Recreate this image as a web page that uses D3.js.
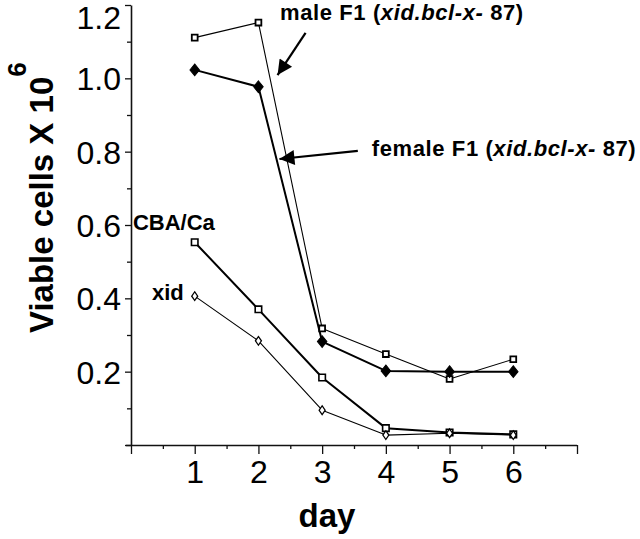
<!DOCTYPE html>
<html>
<head>
<meta charset="utf-8">
<script src="https://cdn.jsdelivr.net/npm/d3@7"></script>
<style>
  html, body { margin: 0; padding: 0; background: #fff; }
  svg { display: block; }
  text { font-family: "Liberation Sans", Arial, Helvetica, sans-serif; fill: #000; }
</style>
</head>
<body>
<svg id="chart" width="640" height="539"></svg>
<script>
// ---- data ----
const days = [1, 2, 3, 4, 5, 6];
const maleF1   = [1.111, 1.152, 0.318, 0.248, 0.180, 0.234];
const femaleF1 = [1.023, 0.977, 0.282, 0.202, 0.200, 0.200];
const cbaCa    = [0.553, 0.370, 0.184, 0.046, 0.034, 0.029];
const xidVals  = [0.406, 0.284, 0.095, 0.027, 0.032, 0.027];

const xMajorTicks = [0, 1, 2, 3, 4, 5, 6, 7];
const xTickLabels = ["", "1", "2", "3", "4", "5", "6", ""];
const xMinorTicks = [0.5, 1.5, 2.5, 3.5, 4.5, 5.5, 6.5];
const yMajorTicks = [0, 0.2, 0.4, 0.6, 0.8, 1.0, 1.2];
const yTickLabels = ["", "0.2", "0.4", "0.6", "0.8", "1.0", "1.2"];
const yMinorTicks = [0.1, 0.3, 0.5, 0.7, 0.9, 1.1];

// annotation anchor points (in data units: day, value)
const labelNames = ["male F1", "female F1", "CBA/Ca", "xid"];
const labelDay   = [2.34, 3.78, 0.03, 0.33];
const labelVal   = [1.159, 0.788, 0.586, 0.395];
const arrowFromDay = [2.74, 3.56];
const arrowFromVal = [1.124, 0.802];
const arrowToDay   = [2.30, 2.33];
const arrowToVal   = [1.009, 0.780];

// ---- scales ----
const svg = d3.select("#chart");
const x = d3.scaleLinear().domain([0, 7]).range([131, 577]);
const y = d3.scaleLinear().domain([0, 1.2]).range([445, 5]);

// ---- axes ----
const axisColor = "#111";
const gx = svg.append("g").attr("transform", `translate(0,${y(0)})`);
gx.call(d3.axisBottom(x).tickValues(xMinorTicks).tickSize(4).tickFormat(""));
gx.call(g => g.selectAll(".domain").remove());
const gx2 = svg.append("g").attr("transform", `translate(0,${y(0)})`);
gx2.call(d3.axisBottom(x).tickValues(xMajorTicks).tickSize(9).tickSizeOuter(0)
  .tickFormat((d, i) => xTickLabels[i]));
gx2.select(".domain").attr("d", `M${x(0) - 5},0.5H${x(7)}`);
[gx, gx2].forEach(g => {
  g.selectAll("line").attr("stroke", axisColor).attr("stroke-width", 1.3);
  g.selectAll("path").attr("stroke", axisColor).attr("stroke-width", 1.6);
});
gx2.selectAll("text").attr("font-size", 32).attr("y", 15).attr("dy", "0.71em")
  .style("font-family", '"Liberation Sans", Arial, sans-serif');

const gy = svg.append("g").attr("transform", `translate(${x(0)},0)`);
gy.call(d3.axisLeft(y).tickValues(yMinorTicks).tickSize(4).tickFormat(""));
gy.call(g => g.selectAll(".domain").remove());
const gy2 = svg.append("g").attr("transform", `translate(${x(0)},0)`);
gy2.call(d3.axisLeft(y).tickValues(yMajorTicks).tickSize(6).tickSizeOuter(0)
  .tickFormat((d, i) => yTickLabels[i]));
[gy, gy2].forEach(g => {
  g.selectAll("line").attr("stroke", axisColor).attr("stroke-width", 1.3);
  g.selectAll("path").attr("stroke", axisColor).attr("stroke-width", 1.6);
});
gy2.selectAll(".tick text")
  .attr("font-size", 32).attr("x", -10)
  .attr("dy", "0.36em")
  .style("font-family", '"Liberation Sans", Arial, sans-serif');
// keep the top label inside the picture
gy2.selectAll(".tick").each(function(d) {
  if (y(d) < 17) d3.select(this).select("text").attr("y", 17 - y(d));
});

// ---- axis titles ----
const yt = svg.append("text")
  .attr("transform", `translate(53,333) rotate(-90)`)
  .attr("font-size", 33).attr("font-weight", "bold");
yt.append("tspan").text("Viable cells X 10");
yt.append("tspan").attr("dy", -27).attr("font-size", 26).text("6");

svg.append("text")
  .attr("x", 327).attr("y", 527)
  .attr("text-anchor", "middle")
  .attr("font-size", 33).attr("font-weight", "bold")
  .text("day");

// ---- series ----
const series = [
  { name: "male F1",   vals: maleF1,   lw: 1.1, sym: d3.symbolSquare,  size: 34, sx: 1.0, fill: "#fff", sw: 1.8 },
  { name: "female F1", vals: femaleF1, lw: 2.0, sym: d3.symbolDiamond, size: 40, sx: 1.4, fill: "#000", sw: 0.8 },
  { name: "CBA/Ca",    vals: cbaCa,    lw: 2.0, sym: d3.symbolSquare,  size: 42, sx: 1.0, fill: "#fff", sw: 1.6 },
  { name: "xid",       vals: xidVals,  lw: 1.1, sym: d3.symbolDiamond, size: 22, sx: 1.2, fill: "#fff", sw: 1.1 }
];
const line = d3.line().x((d, i) => x(days[i])).y(d => y(d));
series.forEach(s => {
  svg.append("path").datum(s.vals)
    .attr("d", line).attr("fill", "none")
    .attr("stroke", "#000").attr("stroke-width", s.lw)
    .attr("stroke-linejoin", "round");
});
series.forEach(s => {
  svg.append("g").selectAll("path").data(s.vals).join("path")
    .attr("transform", (d, i) => `translate(${x(days[i])},${y(d)}) scale(${s.sx},1)`)
    .attr("d", d3.symbol().type(s.sym).size(s.size))
    .attr("fill", s.fill).attr("stroke", "#000").attr("stroke-width", s.sw);
});

// ---- annotations ----
function fLabel(i) {
  const t = svg.append("text")
    .attr("x", x(labelDay[i])).attr("y", y(labelVal[i]))
    .attr("font-size", 22).attr("font-weight", "bold")
    .attr("letter-spacing", 0.6);
  t.append("tspan").text(labelNames[i] + " (");
  t.append("tspan").attr("font-style", "italic").text("xid.bcl-x-");
  t.append("tspan").text(" 87)");
}
fLabel(0);
fLabel(1);
[2, 3].forEach(i => {
  svg.append("text")
    .attr("x", x(labelDay[i])).attr("y", y(labelVal[i]))
    .attr("font-size", 22).attr("font-weight", "bold")
    .text(labelNames[i]);
});

svg.append("defs").append("marker")
  .attr("id", "ah").attr("viewBox", "0 0 10 10")
  .attr("refX", 10).attr("refY", 5)
  .attr("markerUnits", "userSpaceOnUse")
  .attr("markerWidth", 21).attr("markerHeight", 15)
  .attr("orient", "auto")
  .append("path").attr("d", "M0,0L10,5L0,10Z").attr("fill", "#000");

arrowFromDay.forEach((d, i) => {
  svg.append("line")
    .attr("x1", x(d)).attr("y1", y(arrowFromVal[i]))
    .attr("x2", x(arrowToDay[i])).attr("y2", y(arrowToVal[i]))
    .attr("stroke", "#000").attr("stroke-width", 2.2)
    .attr("marker-end", "url(#ah)");
});
</script>
</body>
</html>
